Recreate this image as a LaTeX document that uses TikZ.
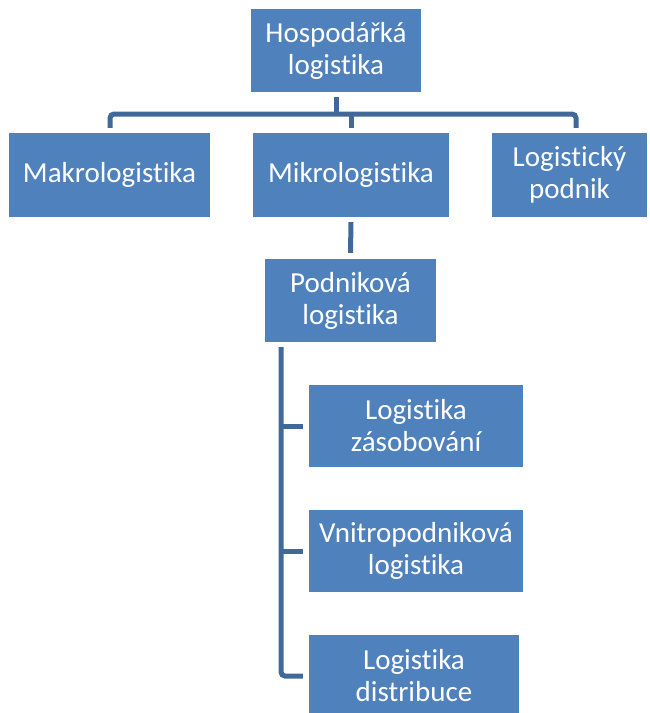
\documentclass[tikz,border=0pt]{standalone}
\usepackage{fontspec}
\setmainfont[Ligatures=NoCommon]{Carlito}
\definecolor{boxblue}{RGB}{79,129,189}
\definecolor{connblue}{RGB}{64,104,152}
\begin{document}
\begin{tikzpicture}[x=1pt,y=-1pt,
  box/.style={fill=boxblue, draw=none, text=white, align=center, inner sep=0pt,
    font=\fontsize{29}{32}\selectfont},
  conn/.style={draw=connblue, line width=5pt}]
\path[use as bounding box] (0,0) rectangle (650,713);
\begin{scope}
\clip (0,0) rectangle (650,713);
\node[box, minimum width=170pt, minimum height=83pt] (top) at (336,50.5) {Hospodářká\\logistika};
\node[box, minimum width=201pt, minimum height=84pt] (makro) at (109.5,175) {Makrologistika};
\node[box, minimum width=196pt, minimum height=84pt] (mikro) at (351,175) {Mikrologistika};
\node[box, minimum width=155pt, minimum height=84pt] (podnik) at (569.5,175) {Logistický\\podnik};
\node[box, minimum width=171pt, minimum height=83pt] (podnikova) at (350.5,300.5) {Podniková\\logistika};
\node[box, minimum width=214pt, minimum height=82pt] (zasob) at (416,426) {Logistika\\zásobování};
\node[box, minimum width=214pt, minimum height=82pt] (vnitro) at (416,551) {Vnitropodniková\\logistika};
\node[box, minimum width=210pt, minimum height=82pt] (distrib) at (414,676) {Logistika\\distribuce};

\coordinate (busL) at (110,114);
\coordinate (busR) at (576,114);
\coordinate (spine) at (281,0);

\draw[conn] ([yshift=-5pt]top.south) -- (top.south |- busL);
\draw[conn, rounded corners=4pt] ([yshift=5pt]busL |- makro.north) -- (busL) -- (busR) -- ([yshift=5pt]busR |- podnik.north);
\draw[conn] (mikro.north |- busL) -- ([yshift=5pt]mikro.north);
\draw[conn] ([yshift=-5pt]mikro.south) -- ([yshift=6pt]podnikova.north);
\draw[conn, rounded corners=4pt] ([yshift=-5pt]spine |- podnikova.south) -- (spine |- distrib.west) -- ([xshift=-6pt]distrib.west);
\draw[conn] (spine |- zasob.west) -- ([xshift=-6pt]zasob.west);
\draw[conn] (spine |- vnitro.west) -- ([xshift=-6pt]vnitro.west);
\end{scope}
\end{tikzpicture}
\end{document}
